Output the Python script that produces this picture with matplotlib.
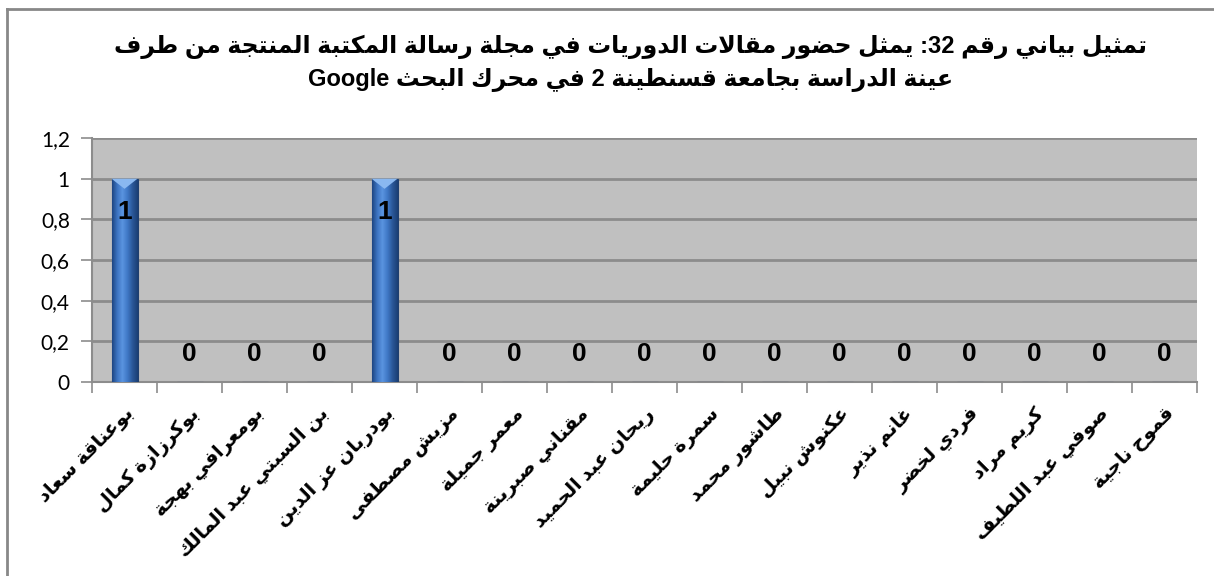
import re
import numpy as np
import matplotlib
matplotlib.use("Agg")
import matplotlib.pyplot as plt
from matplotlib.lines import Line2D
from matplotlib.colors import LinearSegmentedColormap

# Arabic has no shaping in matplotlib: build the contextual forms by hand
# (presentation forms B) and lay the string out right to left.
DUAL = {"ئ": 0xFE89, "ب": 0xFE8F, "ت": 0xFE95, "ث": 0xFE99, "ج": 0xFE9D,
        "ح": 0xFEA1, "خ": 0xFEA5, "س": 0xFEB1, "ش": 0xFEB5, "ص": 0xFEB9,
        "ض": 0xFEBD, "ط": 0xFEC1, "ظ": 0xFEC5, "ع": 0xFEC9, "غ": 0xFECD,
        "ف": 0xFED1, "ق": 0xFED5, "ك": 0xFED9, "ل": 0xFEDD, "م": 0xFEE1,
        "ن": 0xFEE5, "ه": 0xFEE9, "ي": 0xFEF1}
RIGHT = {"آ": 0xFE81, "أ": 0xFE83, "ؤ": 0xFE85, "إ": 0xFE87, "ا": 0xFE8D,
         "ة": 0xFE93, "د": 0xFEA9, "ذ": 0xFEAB, "ر": 0xFEAD, "ز": 0xFEAF,
         "و": 0xFEED, "ى": 0xFEEF}
LAM_ALEF = {"ا": 0xFEFB, "آ": 0xFEF5, "أ": 0xFEF7, "إ": 0xFEF9}


def shape(txt):
    out = []
    i = 0
    n = len(txt)
    while i < n:
        c = txt[i]
        prev_joins = i > 0 and txt[i - 1] in DUAL and out and out[-1] != " "
        if c == "ل" and i + 1 < n and txt[i + 1] in LAM_ALEF:
            code = LAM_ALEF[txt[i + 1]] + (1 if prev_joins else 0)
            out.append(chr(code))
            i += 2
            continue
        nxt = txt[i + 1] if i + 1 < n else ""
        next_joins = nxt in DUAL or nxt in RIGHT
        if c in DUAL:
            base = DUAL[c]
            if prev_joins and next_joins:
                code = base + 3
            elif prev_joins:
                code = base + 1
            elif next_joins:
                code = base + 2
            else:
                code = base
            out.append(chr(code))
        elif c in RIGHT:
            out.append(chr(RIGHT[c] + (1 if prev_joins else 0)))
        else:
            out.append(c)
        i += 1
    return "".join(out)


def ar(txt):
    parts = re.split(r"([A-Za-z0-9]+)", shape(txt))
    return "".join(p if re.fullmatch(r"[A-Za-z0-9]+", p) else p[::-1]
                   for p in reversed(parts))


names = ["بوعناقة سعاد", "بوكرزازة كمال", "بومعرافي بهجة",
         "بن السبتي عبد المالك", "بودربان عز الدين", "مزيش مصطفى",
         "معمر جميلة", "مقناني صبرينة", "ريحان عبد الحميد", "سمرة حليمة",
         "طاشور محمد", "عكنوش نبيل", "غانم نذير", "فردي لخضر", "كريم مراد",
         "صوفي عبد اللطيف", "قموح ناجية"]
counts = [1, 0, 0, 0, 1, 0, 0, 0, 0, 0, 0, 0, 0, 0, 0, 0, 0]
yticks = [0, 0.2, 0.4, 0.6, 0.8, 1, 1.2]
ylabels = ["0", "0,2", "0,4", "0,6", "0,8", "1", "1,2"]
title_lines = ["تمثيل بياني رقم 32: يمثل حضور مقالات الدوريات في مجلة رسالة المكتبة المنتجة من طرف",
               "عينة الدراسة بجامعة قسنطينة 2 في محرك البحث Google"]

fig = plt.figure(figsize=(12.14, 5.76), dpi=100)
ax = fig.add_axes([0.0758, 0.3368, 0.9102, 0.4236])
ax.set_facecolor("#c0c0c0")

x = np.arange(len(names))
bars = ax.bar(x, counts, width=0.4, color="#3b6fbb", edgecolor="#1f3f6e",
              linewidth=0.8, zorder=3)

# shaded fill for the columns
blues = LinearSegmentedColormap.from_list(
    "col", ["#1d4682", "#3d74c2", "#5a94e0", "#3f78c6", "#2a5797", "#1b3f75"])
grad = np.linspace(0, 1, 64).reshape(1, -1)
for b in bars:
    if b.get_height() <= 0:
        continue
    x0, w, h = b.get_x(), b.get_width(), b.get_height()
    im = ax.imshow(grad, cmap=blues, aspect="auto", extent=(x0, x0 + w, 0, h),
                   zorder=4)
    im.set_clip_path(b)
    ax.fill([x0, x0 + w, x0 + w / 2], [h, h, h - 0.05], color="#8ab8f0",
            zorder=5, lw=0)

for xi, v in zip(x, counts):
    ypos = v - 0.165 if v > 0 else 0.14
    ax.text(xi, ypos, str(v), ha="center", va="center", fontsize=19,
            fontweight="bold", family=["Liberation Sans", "DejaVu Sans"],
            zorder=6)

ax.set_xlim(-0.5, len(names) - 0.5)
ax.set_ylim(0, 1.2)
ax.set_yticks(yticks)
ax.set_yticklabels(ylabels, family=["Lato", "DejaVu Sans"], fontsize=15)
ax.yaxis.grid(True, color="#8c8c8c", linewidth=2, zorder=0)
ax.set_axisbelow(True)

ax.set_xticks(np.arange(len(names) + 1) - 0.5)
ax.set_xticklabels([])
ax.set_xticks(x, minor=True)
ax.set_xticklabels([ar(n) for n in names], minor=True, rotation=45,
                   ha="right", va="top", rotation_mode="anchor",
                   family=["Liberation Sans", "DejaVu Sans"],
                   fontweight="bold", fontsize=14)
ax.tick_params(axis="x", which="major", length=8, color="#8c8c8c", width=1.2)
ax.tick_params(axis="x", which="minor", length=0, pad=16)
ax.tick_params(axis="y", length=8, color="#8c8c8c", width=1.2, pad=8)

for side in ["top", "right"]:
    ax.spines[side].set_visible(False)
for side in ["left", "bottom"]:
    ax.spines[side].set_color("#8c8c8c")
    ax.spines[side].set_linewidth(1.5)

fig.text(0.519, 0.918, ar(title_lines[0]), ha="center", va="center",
         fontsize=17, fontweight="bold", family=["Liberation Sans", "DejaVu Sans"])
fig.text(0.519, 0.861, ar(title_lines[1]), ha="center", va="center",
         fontsize=17, fontweight="bold", family=["Liberation Sans", "DejaVu Sans"])

# chart frame
fig.add_artist(Line2D([0.006, 1.0], [0.984, 0.984], transform=fig.transFigure,
                      color="#888888", lw=2))
fig.add_artist(Line2D([0.006, 0.006], [0.0, 0.984], transform=fig.transFigure,
                      color="#888888", lw=2))

fig.savefig("out.png", dpi=100)
